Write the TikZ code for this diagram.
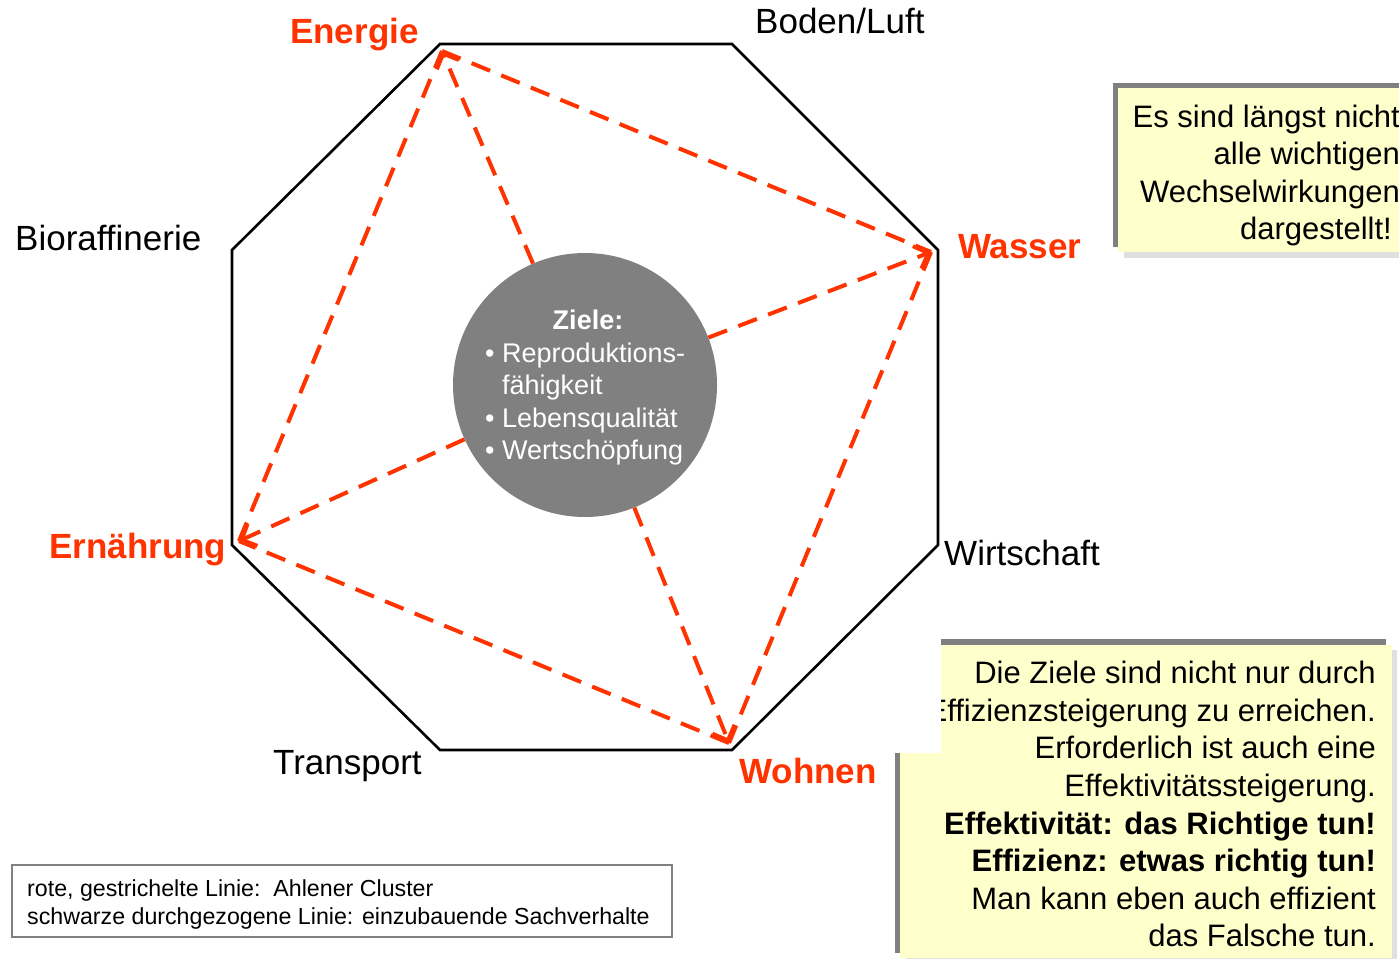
\documentclass[tikz,border=0pt]{standalone}
\usepackage{fontspec}
\setmainfont{Liberation Sans}
\usetikzlibrary{arrows.meta}
\definecolor{redo}{RGB}{255,51,0}
\definecolor{boxyellow}{RGB}{255,255,204}
\definecolor{darkframe}{RGB}{128,128,128}
\definecolor{lightshadow}{RGB}{224,224,224}
\definecolor{goalgray}{RGB}{128,128,128}
\tikzset{
  biglabel/.style={inner sep=0pt, anchor=base west, font=\fontsize{35}{42}\selectfont},
  redlabel/.style={biglabel, text=redo, font=\fontsize{35}{42}\selectfont\bfseries},
  cluster/.style={draw=redo, line width=4pt, dash pattern=on 20pt off 12pt},
  spoke/.style={cluster, -{Straight Barb[length=12pt,width=24pt]}},
  boxline/.style={inner sep=0pt, anchor=base east, font=\fontsize{31}{37}\selectfont},
  goalline/.style={inner sep=0pt, anchor=base west, text=white, font=\fontsize{27}{32}\selectfont},
  legendline/.style={inner sep=0pt, anchor=base west, font=\fontsize{23.2}{28}\selectfont},
}
\begin{document}
\begin{tikzpicture}[x=1pt,y=-1pt]
\useasboundingbox (0,0) rectangle (1399,958);
\clip (0,0) rectangle (1399,958);
% octagon
\coordinate (A) at (440,44);
\coordinate (B) at (732,44);
\coordinate (C) at (938,250);
\coordinate (D) at (938,545);
\coordinate (E) at (732,750);
\coordinate (F) at (440,750);
\coordinate (G) at (232,545);
\coordinate (H) at (232,250);
\draw[line width=2.6pt, line join=miter] (A) -- (B) -- (C) -- (D) -- (E) -- (F) -- (G) -- (H) -- cycle;
% cluster points
\coordinate (en) at (442,51);
\coordinate (wa) at (931,252);
\coordinate (wo) at (729,743);
\coordinate (er) at (239,541);
% goal circle
\node[circle, fill=goalgray, minimum size=264pt, inner sep=0pt] (ziel) at (585,385) {};
\node[inner sep=0pt, anchor=base, text=white, font=\fontsize{27}{32}\selectfont\bfseries] (zt) at (588,329) {Ziele:};
\node[goalline] (z1) at (485,362) {\textbullet\ Reproduktions-};
\node[goalline] (z2) at (502,394) {fähigkeit};
\node[goalline] (z3) at (485,427) {\textbullet\ Lebensqualität};
\node[goalline] (z4) at (485,459) {\textbullet\ Wertschöpfung};
% red dashed lines
\draw[cluster] (en) -- (wa);
\draw[cluster] (wa) -- (wo);
\draw[cluster] (wo) -- (er);
\draw[cluster] (er) -- (en);
\draw[spoke] (ziel) -- (en);
\draw[spoke] (ziel) -- (wa);
\draw[spoke] (ziel) -- (wo);
\draw[spoke] (ziel) -- (er);
% labels
\node[redlabel] (lEn) at (290,44) {Energie};
\node[biglabel] (lBo) at (755,34) {Boden/Luft};
\node[biglabel] (lBi) at (15,250) {Bioraffinerie};
\node[redlabel] (lWa) at (958,258) {Wasser};
\node[redlabel] (lEr) at (49,558) {Ernährung};
\node[biglabel] (lWi) at (944,565) {Wirtschaft};
\node[biglabel] (lTr) at (273,774) {Transport};
\node[redlabel] (lWo) at (739,783) {Wohnen};
% top-right note
\fill[lightshadow] (1124,94) rectangle (1420,258);
\fill[darkframe] (1113,83) rectangle (1420,247);
\fill[boxyellow] (1118,88) rectangle (1420,252);
\node[boxline] (n1) at (1400,127) {Es sind längst nicht};
\node[boxline] (n2) at (1400,164.5) {alle wichtigen};
\node[boxline] (n3) at (1400,202) {Wechselwirkungen};
\node[boxline] (n4) at (1392,239.5) {dargestellt!};
% bottom-right note
\fill[lightshadow] (906,650) rectangle (1397,964);
\fill[darkframe] (895,639) rectangle (1386,953);
\fill[boxyellow] (900,645) rectangle (1392,958);
\node[boxline] (m1) at (1376,683) {Die Ziele sind nicht nur durch};
\node[boxline] (m2) at (1376,721) {Effizienzsteigerung zu erreichen.};
\node[boxline] (m3) at (1376,758) {Erforderlich ist auch eine};
\node[boxline] (m4) at (1376,796) {Effektivitätssteigerung.};
\node[boxline, font=\fontsize{31}{37}\selectfont\bfseries] (m5) at (1376,834) {Effektivität: das Richtige tun!};
\node[boxline, font=\fontsize{31}{37}\selectfont\bfseries] (m6) at (1376,871) {Effizienz: etwas richtig tun!};
\node[boxline] (m7) at (1376,909) {Man kann eben auch effizient};
\node[boxline] (m8) at (1376,946) {das Falsche tun.};
\fill[white] (880,620) rectangle (941,753);
% legend
\draw[darkframe, line width=1.5pt] (12,865) rectangle (672,937);
\node[legendline] (g1) at (27,896) {rote, gestrichelte Linie:\ \ Ahlener Cluster};
\node[legendline] (g2) at (27,924) {schwarze durchgezogene Linie: einzubauende Sachverhalte};
\end{tikzpicture}
\end{document}
